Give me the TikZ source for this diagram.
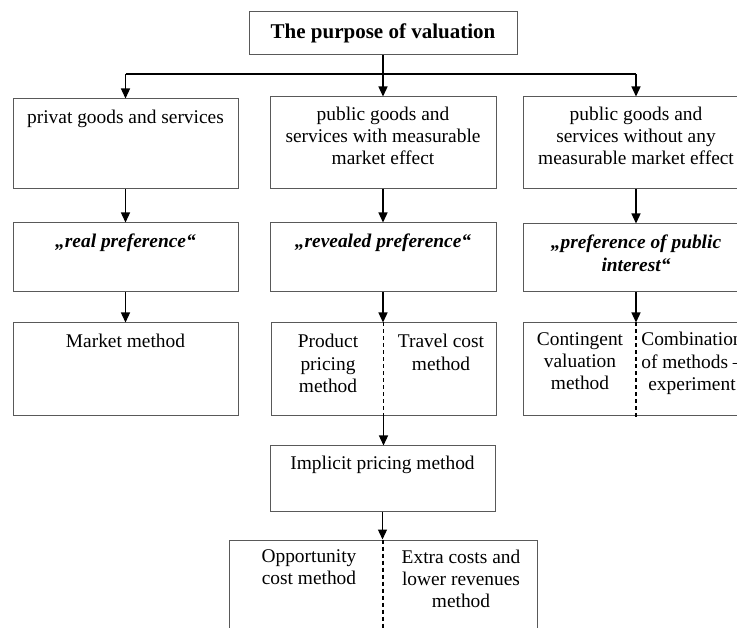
\documentclass[tikz,border=0pt]{standalone}
\usepackage{fontspec}
\setmainfont{Liberation Serif}
\usetikzlibrary{arrows.meta}
\begin{document}
\begin{tikzpicture}[x=1pt,y=-1pt,
  box/.style={draw=black!65, line width=1pt, rectangle, inner sep=0pt},
  lbl/.style={anchor=north, inner sep=0pt, align=center, font=\fontsize{19.4}{22.4}\selectfont},
  arr/.style={line width=1.3pt, -{Triangle[length=10pt,width=9pt]}},
  sepline/.style={line width=1.1pt, dash pattern=on 4pt off 3pt}]
\useasboundingbox (0,0) rectangle (737,628);
\clip (0,0) rectangle (737,628);
% title
\node[box, minimum width=268pt, minimum height=43pt, font=\fontsize{21}{24}\selectfont\bfseries] (title) at (383,33.5) {The purpose of valuation};
% row 1
\node[box, minimum width=225pt, minimum height=90pt] (b1) at (125.5,144) {};
\node[box, minimum width=226pt, minimum height=92pt] (b2) at (383,143) {};
\node[box, minimum width=226pt, minimum height=92pt] (b3) at (636,143) {};
\node[lbl] (t1) at ([yshift=-11.5pt]b1.north) {privat goods and services};
\node[lbl] (t2) at ([yshift=-10pt]b2.north) {public goods and\\services with measurable\\market effect};
\node[lbl] (t3) at ([yshift=-10pt]b3.north) {public goods and\\services without any\\measurable market effect};
% row 2
\node[box, minimum width=225pt, minimum height=69pt] (p1) at (125.5,257.5) {};
\node[box, minimum width=226pt, minimum height=69pt] (p2) at (383,257.5) {};
\node[box, minimum width=226pt, minimum height=68pt] (p3) at (636,258) {};
\node[lbl, font=\fontsize{19.4}{22.4}\selectfont\bfseries\itshape] (q1) at ([yshift=-11.5pt]p1.north) {„real preference“};
\node[lbl, font=\fontsize{19.4}{22.4}\selectfont\bfseries\itshape] (q2) at ([yshift=-11.5pt]p2.north) {„revealed preference“};
\node[lbl, font=\fontsize{19.4}{22.4}\selectfont\bfseries\itshape] (q3) at ([yshift=-11.5pt]p3.north) {„preference of public\\interest“};
% row 3
\node[box, minimum width=225pt, minimum height=93pt] (m1) at (125.5,369.5) {};
\node[box, minimum width=225pt, minimum height=93pt] (m2) at (383.5,369.5) {};
\node[box, minimum width=226pt, minimum height=93pt] (m3) at (636,369.5) {};
\node[lbl] (r1) at ([yshift=-11.5pt]m1.north) {Market method};
\node[lbl] (r2a) at (328,334) {Product\\pricing\\method};
\node[lbl] (r2b) at (441,334) {Travel cost\\method};
\node[lbl] (r3a) at (580,332) {Contingent\\valuation\\method};
\node[lbl] (r3b) at (692,332) {Combination\\of methods –\\experiment};
\draw[sepline] (m2.north) -- (m2.south);
\draw[sepline] (m3.north) -- ([yshift=-3pt]m3.south);
% implicit
\node[box, minimum width=225pt, minimum height=65pt] (imp) at (382.5,478.5) {};
\node[lbl] (ti) at ([yshift=-10.5pt]imp.north) {Implicit pricing method};
% bottom
\node[box, minimum width=308pt, minimum height=110pt] (bot) at (383,595) {};
\node[lbl] (ba) at (309,549.5) {Opportunity\\cost method};
\node[lbl] (bb) at (461,549.5) {Extra costs and\\lower revenues\\method};
\draw[sepline] (bot.north) -- (bot.south);
% connectors
\coordinate (j) at (383,74);
\draw[line width=1.3pt] (b1.north |- j) -- (b3.north |- j);
\draw[arr] (title.south) -- (b2.north);
\draw[arr] (b1.north |- j) -- (b1.north);
\draw[arr] (b3.north |- j) -- (b3.north);
\draw[arr] (b1.south) -- (p1.north);
\draw[arr] (b2.south) -- (p2.north);
\draw[arr] (b3.south) -- (p3.north);
\draw[arr] (p1.south) -- (m1.north);
\draw[arr] (p2.south) -- (p2.south |- m2.north);
\draw[arr] (p3.south) -- (m3.north);
\draw[arr] (m2.south) -- (m2.south |- imp.north);
\draw[arr] (imp.south) -- (imp.south |- bot.north);
\end{tikzpicture}
\end{document}
